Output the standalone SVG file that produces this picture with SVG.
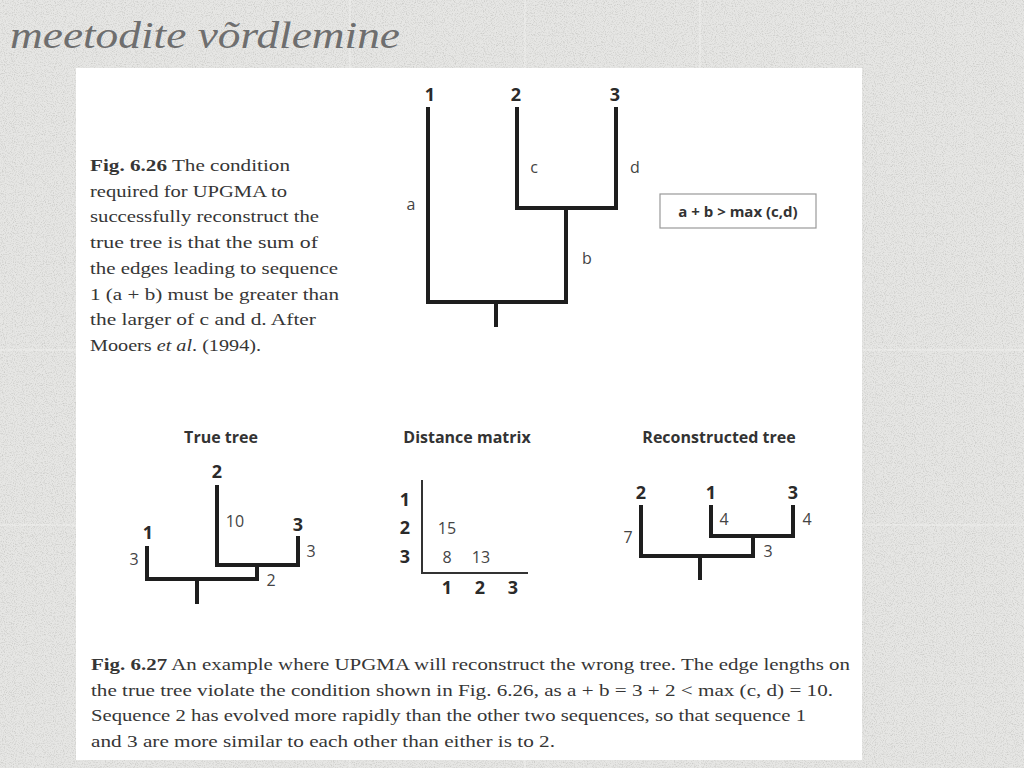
<svg xmlns="http://www.w3.org/2000/svg" width="1024" height="768" viewBox="0 0 1024 768">
<defs>
<filter id="granite" x="0" y="0" width="100%" height="100%">
<feTurbulence type="fractalNoise" baseFrequency="0.9" numOctaves="2" seed="3" result="n"/>
<feColorMatrix type="matrix" values="0 0 0 0 0.5  0 0 0 0 0.5  0 0 0 0 0.48  0 0 0 -2.4 1.3" in="n"/>
</filter>
<style>
.br{fill:none;stroke:#1e1e1e;stroke-width:4;stroke-linecap:square}
.leaf{font-family:"Open Sans","Liberation Sans",sans-serif;font-weight:bold;font-size:18px;fill:#2a2a2a;text-anchor:middle}
.edge{font-family:"Open Sans","Liberation Sans",sans-serif;font-size:16px;fill:#444;text-anchor:middle}
.head{font-family:"Open Sans","Liberation Sans",sans-serif;font-weight:bold;font-size:16px;fill:#333;text-anchor:middle}
.cap{font-family:"Liberation Serif","Times New Roman",serif;font-size:17px;fill:#363636}
.capb{font-weight:bold}
</style>
</defs>
<rect x="0" y="0" width="1024" height="768" fill="#e6e6e4"/>
<rect x="0" y="0" width="1024" height="768" filter="url(#granite)" opacity="0.65"/>
<g stroke="#f4f4f2" stroke-width="1" opacity="0.7">
<line x1="350" y1="0" x2="350" y2="768"/><line x1="525" y1="0" x2="525" y2="768"/><line x1="700" y1="0" x2="700" y2="768"/>
<line x1="0" y1="350" x2="1024" y2="350"/><line x1="0" y1="525" x2="1024" y2="525"/>
</g>
<text x="10" y="48" font-family="'Liberation Serif', serif" font-style="italic" font-size="38" fill="#6e6e6e" textLength="390" lengthAdjust="spacingAndGlyphs">meetodite võrdlemine</text>
<rect x="76" y="68" width="786" height="692" fill="#ffffff"/>

<g id="caption-626" class="cap">
<text x="90" y="171" textLength="200" lengthAdjust="spacingAndGlyphs"><tspan class="capb">Fig. 6.26</tspan> The condition</text>
<text x="90" y="197" textLength="197" lengthAdjust="spacingAndGlyphs">required for UPGMA to</text>
<text x="90" y="222" textLength="229" lengthAdjust="spacingAndGlyphs">successfully reconstruct the</text>
<text x="90" y="248" textLength="228" lengthAdjust="spacingAndGlyphs">true tree is that the sum of</text>
<text x="90" y="274" textLength="248" lengthAdjust="spacingAndGlyphs">the edges leading to sequence</text>
<text x="90" y="300" textLength="249" lengthAdjust="spacingAndGlyphs">1 (a + b) must be greater than</text>
<text x="90" y="325" textLength="226" lengthAdjust="spacingAndGlyphs">the larger of c and d. After</text>
<text x="90" y="351" textLength="171" lengthAdjust="spacingAndGlyphs">Mooers <tspan font-style="italic">et al</tspan>. (1994).</text>
</g>

<g id="fig626-tree">
<g id="connectors-626">
<polyline class="br" points="428,109 428,302 566,302 566,208"/>
<polyline class="br" points="517,109 517,208 616,208 616,109"/>
<line class="br" x1="496" y1="302" x2="496" y2="325"/>
</g>
<g id="n626-1"><text class="leaf" x="430" y="101">1</text></g>
<g id="n626-2"><text class="leaf" x="516" y="101">2</text></g>
<g id="n626-3"><text class="leaf" x="615" y="101">3</text></g>
<text class="edge" x="411" y="210">a</text>
<text class="edge" x="587" y="264">b</text>
<text class="edge" x="534" y="173">c</text>
<text class="edge" x="635" y="173">d</text>
<g id="condition-box">
<rect x="660" y="194" width="156" height="34" fill="#fff" stroke="#999" stroke-width="1.2"/>
<text x="738" y="217" font-family="'Open Sans','Liberation Sans',sans-serif" font-weight="bold" font-size="15" fill="#333" text-anchor="middle">a + b &gt; max (c,d)</text>
</g>
</g>

<g id="true-tree">
<text class="head" x="221" y="443">True tree</text>
<g id="connectors-true">
<polyline class="br" points="217,487 217,565 298,565 298,538"/>
<polyline class="br" points="147,548 147,579 257,579 257,565"/>
<line class="br" x1="197" y1="579" x2="197" y2="602"/>
</g>
<g id="t-2"><text class="leaf" x="217" y="478">2</text></g>
<g id="t-1"><text class="leaf" x="148" y="539">1</text></g>
<g id="t-3"><text class="leaf" x="298" y="531">3</text></g>
<text class="edge" x="235" y="527">10</text>
<text class="edge" x="134" y="565">3</text>
<text class="edge" x="311" y="557">3</text>
<text class="edge" x="271" y="586">2</text>
</g>

<g id="distance-matrix">
<text class="head" x="467" y="443">Distance matrix</text>
<g id="connectors-matrix"><polyline points="422,480 422,573 528,573" fill="none" stroke="#333" stroke-width="2"/></g>
<g class="leaf">
<text x="405" y="506">1</text><text x="405" y="534">2</text><text x="405" y="563">3</text>
<text x="447" y="594">1</text><text x="480" y="594">2</text><text x="513" y="594">3</text>
</g>
<g class="edge">
<text x="447" y="534">15</text><text x="447" y="563">8</text><text x="481" y="563">13</text>
</g>
</g>

<g id="reconstructed-tree">
<text class="head" x="719" y="443">Reconstructed tree</text>
<g id="connectors-rec">
<polyline class="br" points="711,507 711,536 793,536 793,507"/>
<polyline class="br" points="641,507 641,556 753,556 753,536"/>
<line class="br" x1="700" y1="556" x2="700" y2="578"/>
</g>
<g id="r-2"><text class="leaf" x="641" y="499">2</text></g>
<g id="r-1"><text class="leaf" x="711" y="499">1</text></g>
<g id="r-3"><text class="leaf" x="793" y="499">3</text></g>
<text class="edge" x="628" y="543">7</text>
<text class="edge" x="724" y="525">4</text>
<text class="edge" x="807" y="525">4</text>
<text class="edge" x="768" y="557">3</text>
</g>

<g id="caption-627" class="cap">
<text x="91" y="670" textLength="759" lengthAdjust="spacingAndGlyphs"><tspan class="capb">Fig. 6.27</tspan> An example where UPGMA will reconstruct the wrong tree. The edge lengths on</text>
<text x="91" y="696" textLength="742" lengthAdjust="spacingAndGlyphs">the true tree violate the condition shown in Fig. 6.26, as a + b = 3 + 2 &lt; max (c, d) = 10.</text>
<text x="91" y="721" textLength="715" lengthAdjust="spacingAndGlyphs">Sequence 2 has evolved more rapidly than the other two sequences, so that sequence 1</text>
<text x="91" y="747" textLength="464" lengthAdjust="spacingAndGlyphs">and 3 are more similar to each other than either is to 2.</text>
</g>
</svg>
